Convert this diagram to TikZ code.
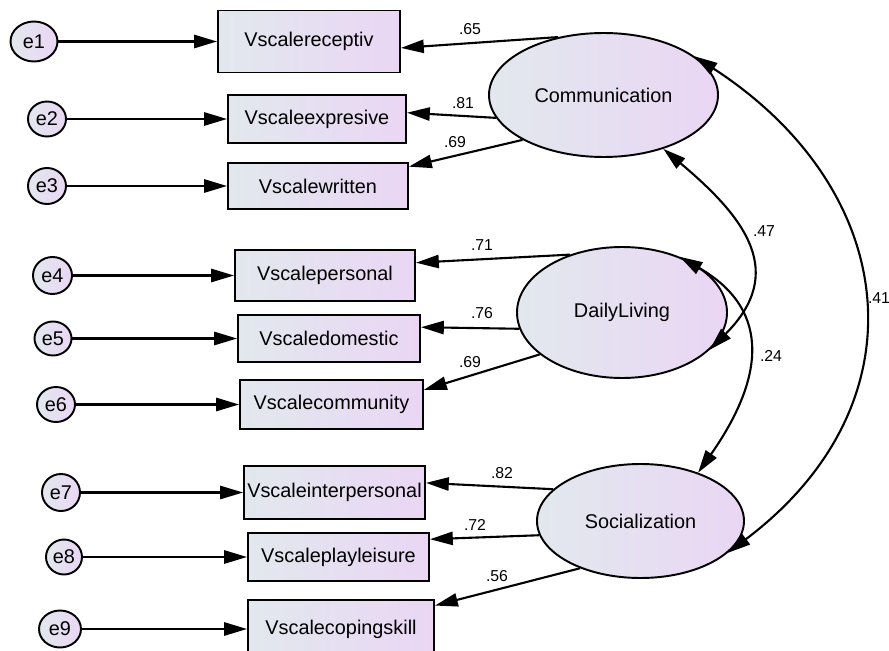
\documentclass[tikz,border=0pt]{standalone}
\usepackage{fontspec}
\setmainfont{Liberation Sans}
\usetikzlibrary{arrows.meta,shapes.geometric}
\definecolor{boxleft}{RGB}{226,232,238}
\definecolor{boxright}{RGB}{234,214,244}
\tikzset{
  obs/.style={draw, line width=1.1pt, left color=boxleft, right color=boxright, inner sep=0pt, font=\fontsize{11.3}{13}\selectfont},
  lat/.style={ellipse, draw, line width=1.1pt, left color=boxleft, right color=boxright, inner sep=0pt, font=\fontsize{11.3}{13}\selectfont},
  err/.style={ellipse, draw, line width=1.1pt, left color=boxleft, right color=boxright, inner sep=0pt, font=\fontsize{11.3}{13}\selectfont},
  arr/.style={line width=1.2pt, -{Triangle[length=13pt,width=7.5pt]}},
  coarr/.style={line width=1.2pt, {Triangle[length=13pt,width=7.5pt]}-{Triangle[length=13pt,width=7.5pt]}},
  est/.style={font=\fontsize{9}{10}\selectfont, inner sep=0pt}
}
\begin{document}
\begin{tikzpicture}
  \useasboundingbox (0,0) rectangle (17.78,-13.02);
  \foreach \i/\ex/\ew/\eh/\bx/\y/\w/\h/\t in {1/0.68/0.94/0.80/6.18/-0.83/3.64/1.24/Vscalereceptiv,
      2/0.94/0.76/0.70/6.34/-2.38/3.56/0.96/Vscaleexpresive,
      3/0.94/0.76/0.72/6.36/-3.72/3.60/0.92/Vscalewritten,
      4/1.05/0.78/0.74/6.50/-5.51/3.60/1.02/Vscalepersonal,
      5/1.06/0.74/0.68/6.58/-6.77/3.64/0.94/Vscaledomestic,
      6/1.12/0.76/0.70/6.63/-8.09/3.66/0.98/Vscalecommunity,
      7/1.22/0.76/0.74/6.69/-9.85/3.62/1.06/Vscaleinterpersonal,
      8/1.28/0.72/0.70/6.77/-11.14/3.62/0.96/Vscaleplayleisure,
      9/1.20/0.84/0.74/6.82/-12.58/3.72/1.16/Vscalecopingskill}
  {
    \node[err, minimum width=\ew cm, minimum height=\eh cm] (e\i) at (\ex,\y) {e\i};
    \node[obs, minimum width=\w cm, minimum height=\h cm] (v\i) at (\bx,\y) {\t};
    \draw[arr] (e\i) -- (v\i);
  }

  \node[lat, minimum width=4.58cm, minimum height=2.48cm] (comm) at (12.07,-1.90) {Communication};
  \node[lat, minimum width=4.20cm, minimum height=2.62cm] (dl) at (12.44,-6.25) {DailyLiving};
  \node[lat, minimum width=4.14cm, minimum height=2.28cm] (soc) at (12.81,-10.42) {Socialization};

  \foreach \f/\fa/\i/\ia/\lx/\ly/\l in {comm/128/1/-4/9.40/-0.58/.65, comm/192/2/4/9.26/-2.06/.81,
      comm/209/3/12/9.10/-2.84/.69, dl/132/4/8/9.64/-4.90/.71, dl/189/5/7/9.64/-6.26/.76,
      dl/207/6/9/9.40/-7.24/.69, soc/160/7/6/10.04/-9.46/.82, soc/188/8/11/9.50/-10.50/.72,
      soc/218/9/14/9.94/-11.52/.56}
  {
    \draw[arr] (\f.\fa) -- (v\i.\ia);
    \node[est] (w\i) at (\lx,\ly) {\l};
  }

  \draw[coarr] (comm.-42) to[out=-40,in=45,looseness=1.35] (dl.-23);
  \draw[coarr] (dl.44) to[out=-30,in=55,looseness=1.3] (soc.40);
  \draw[coarr] (comm.23) to[out=-33,in=37,looseness=1.27] (soc.-20);
  \node[est] (r1) at (15.28,-4.62) {.47};
  \node[est] (r2) at (15.42,-7.12) {.24};
  \node[est] (r3) at (17.58,-5.96) {.41};
\end{tikzpicture}
\end{document}
